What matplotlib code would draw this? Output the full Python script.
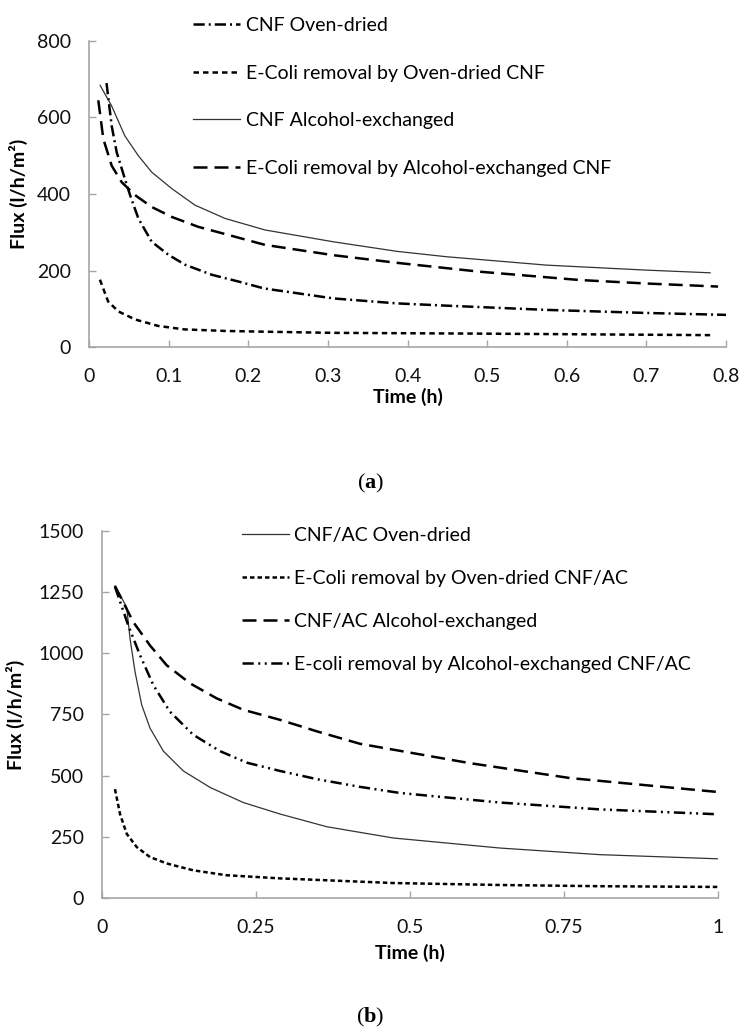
import matplotlib
matplotlib.use("Agg")
import matplotlib.pyplot as plt

plt.rcParams['font.family'] = ['Lato', 'DejaVu Sans']
plt.rcParams['mathtext.fontset'] = 'custom'
plt.rcParams['mathtext.rm'] = 'Liberation Serif'
plt.rcParams['mathtext.bf'] = 'Liberation Serif:bold'

# ---- panel (a): CNF membranes ----
a_oven_t = [0.022, 0.0285, 0.0348, 0.045, 0.0516, 0.062, 0.0788, 0.0998, 0.1208, 0.154,
            0.188, 0.22, 0.307, 0.387, 0.45, 0.575, 0.70, 0.80]
a_oven_v = [690, 578, 509, 440, 397, 336, 275, 241, 215, 189,
            171, 153, 127, 114, 108, 97, 89, 84]

a_oven_ecoli_t = [0.0137, 0.024, 0.0369, 0.0579, 0.087, 0.12, 0.171, 0.221, 0.307, 0.49, 0.78]
a_oven_ecoli_v = [176, 119, 93, 72, 55, 46, 42, 40, 37, 35, 31]

a_alc_t = [0.014, 0.0285, 0.045, 0.062, 0.0788, 0.104, 0.133, 0.171, 0.221, 0.307,
           0.387, 0.449, 0.575, 0.70, 0.78]
a_alc_v = [684, 630, 552, 500, 457, 414, 371, 336, 306, 275,
           250, 236, 214, 201, 194]

a_alc_ecoli_t = [0.0117, 0.018, 0.0285, 0.041, 0.0579, 0.0788, 0.104, 0.1375, 0.175, 0.221,
                 0.307, 0.387, 0.49, 0.617, 0.70, 0.79]
a_alc_ecoli_v = [645, 544, 474, 431, 397, 366, 340, 314, 293, 267,
                 240, 220, 197, 175, 166, 158]

# ---- panel (b): CNF/AC membranes ----
b_oven_t = [0.021, 0.030, 0.040, 0.0455, 0.0536, 0.0644, 0.0779, 0.0996, 0.132, 0.176,
            0.2294, 0.289, 0.365, 0.473, 0.646, 0.808, 1.0]
b_oven_v = [1275, 1235, 1188, 1059, 924, 789, 694, 600, 519, 451,
            390, 343, 291, 245, 204, 177, 160]

b_oven_ecoli_t = [0.021, 0.0292, 0.0401, 0.0563, 0.0779, 0.105, 0.148, 0.2013, 0.289, 0.473,
                  0.646, 0.808, 1.0]
b_oven_ecoli_v = [445, 343, 262, 208, 167, 141, 113, 93, 80, 61,
                  53, 48, 45]

b_alc_t = [0.021, 0.0509, 0.0779, 0.105, 0.143, 0.186, 0.2294, 0.289, 0.35, 0.419,
           0.597, 0.76, 1.0]
b_alc_v = [1275, 1127, 1032, 951, 877, 816, 769, 728, 680, 630,
           551, 490, 433]

b_alc_ecoli_t = [0.021, 0.0427, 0.0617, 0.0833, 0.110, 0.148, 0.1916, 0.235, 0.289, 0.35,
                 0.419, 0.484, 0.646, 0.808, 1.0]
b_alc_ecoli_v = [1272, 1113, 992, 870, 762, 667, 600, 553, 519, 485,
                 454, 429, 390, 362, 342]

spine_col = '#a6a6a6'

fig = plt.figure(figsize=(7.41, 10.30), dpi=100)
ax1 = fig.add_axes([0.1201, 0.6631, 0.8597, 0.2971])
ax2 = fig.add_axes([0.1377, 0.1282, 0.8313, 0.3563])

ax1.plot(a_oven_t, a_oven_v, color='black', lw=1.8, dashes=(4.5, 1.6, 0.8, 1.6),
         label='CNF Oven-dried')
ax1.plot(a_oven_ecoli_t, a_oven_ecoli_v, color='black', lw=1.8, dashes=(2.2, 1.6),
         label='E-Coli removal by Oven-dried CNF')
ax1.plot(a_alc_t, a_alc_v, color='#333333', lw=0.9, label='CNF Alcohol-exchanged')
ax1.plot(a_alc_ecoli_t, a_alc_ecoli_v, color='black', lw=1.8, dashes=(5.6, 2.8),
         label='E-Coli removal by Alcohol-exchanged CNF')

ax2.plot(b_oven_t, b_oven_v, color='#333333', lw=0.9, label='CNF/AC Oven-dried')
ax2.plot(b_oven_ecoli_t, b_oven_ecoli_v, color='black', lw=1.8, dashes=(1.8, 1.2),
         label='E-Coli removal by Oven-dried CNF/AC')
ax2.plot(b_alc_t, b_alc_v, color='black', lw=1.8, dashes=(5.6, 2.8),
         label='CNF/AC Alcohol-exchanged')
ax2.plot(b_alc_ecoli_t, b_alc_ecoli_v, color='black', lw=1.8,
         dashes=(4.5, 1.8, 0.8, 1.8, 0.8, 1.8),
         label='E-coli removal by Alcohol-exchanged CNF/AC')

ax1.set_xlim(0, 0.8)
ax1.set_ylim(0, 800)
ax1.set_xticks([0, 0.1, 0.2, 0.3, 0.4, 0.5, 0.6, 0.7, 0.8])
ax1.set_xticklabels(['0', '0.1', '0.2', '0.3', '0.4', '0.5', '0.6', '0.7', '0.8'])
ax1.set_yticks([0, 200, 400, 600, 800])

ax2.set_xlim(0, 1)
ax2.set_ylim(0, 1500)
ax2.set_xticks([0, 0.25, 0.5, 0.75, 1])
ax2.set_xticklabels(['0', '0.25', '0.5', '0.75', '1'])
ax2.set_yticks([0, 250, 500, 750, 1000, 1250, 1500])

for ax in (ax1, ax2):
    for s in ('top', 'right'):
        ax.spines[s].set_visible(False)
    for s in ('left', 'bottom'):
        ax.spines[s].set_color(spine_col)
        ax.spines[s].set_linewidth(1.2)
    ax.tick_params(axis='both', direction='in', length=5, width=1, color=spine_col,
                   labelsize=14, labelcolor='#111111')
    ax.tick_params(axis='y', pad=13)
    ax.tick_params(axis='x', pad=15)
    ax.set_xlabel('Time (h)', fontsize=14, fontweight='bold')
    ax.set_ylabel('Flux (l/h/m²)', fontsize=14, fontweight='bold')

ax1.xaxis.set_label_coords(0.5, -0.135)
ax1.yaxis.set_label_coords(-0.095, 0.5)
ax2.xaxis.set_label_coords(0.5, -0.125)
ax2.yaxis.set_label_coords(-0.125, 0.5)

leg_kw = dict(frameon=False, loc='upper left', fontsize=14, handlelength=2.4,
              handletextpad=0.3, borderpad=0, borderaxespad=0)
ax1.legend(bbox_to_anchor=(193 / 741, 1 - 17 / 1030), bbox_transform=fig.transFigure,
           labelspacing=1.57, **leg_kw)
ax2.legend(bbox_to_anchor=(242 / 741, 1 - 527 / 1030), bbox_transform=fig.transFigure,
           labelspacing=1.33, **leg_kw)

fig.text(0.5, 1 - 483 / 1030, r'$\mathrm{(}\mathbf{a}\mathrm{)}$', ha='center', va='center',
         fontsize=16)
fig.text(0.5, 1 - 1017 / 1030, r'$\mathrm{(}\mathbf{b}\mathrm{)}$', ha='center', va='center',
         fontsize=16)

fig.savefig('out.png', dpi=100)
